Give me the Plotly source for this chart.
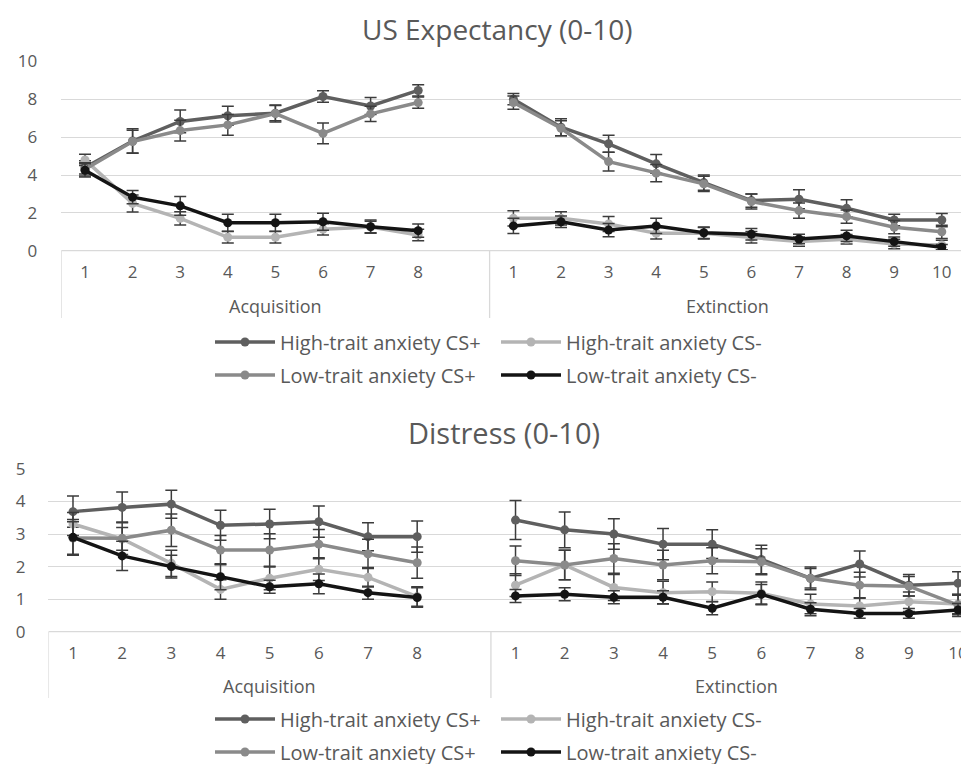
import plotly.graph_objects as go

# ---------------- data ----------------
acq_trials = ["1", "2", "3", "4", "5", "6", "7", "8"]
ext_trials = ["1", "2", "3", "4", "5", "6", "7", "8", "9", "10"]
phases = ["Acquisition", "Extinction"]
series_names = ["High-trait anxiety CS+", "High-trait anxiety CS-",
                "Low-trait anxiety CS+", "Low-trait anxiety CS-"]

# US Expectancy (0-10)
us_acq = {
    "High-trait anxiety CS+": [4.4, 5.8, 6.83, 7.13, 7.27, 8.15, 7.65, 8.47],
    "High-trait anxiety CS-": [4.8, 2.5, 1.71, 0.71, 0.71, 1.13, 1.25, 0.83],
    "Low-trait anxiety CS+": [4.3, 5.77, 6.35, 6.65, 7.25, 6.2, 7.23, 7.83],
    "Low-trait anxiety CS-": [4.25, 2.83, 2.37, 1.48, 1.48, 1.53, 1.27, 1.06],
}
us_acq_err = {
    "High-trait anxiety CS+": [0.35, 0.65, 0.6, 0.5, 0.4, 0.3, 0.45, 0.3],
    "High-trait anxiety CS-": [0.3, 0.45, 0.35, 0.3, 0.3, 0.3, 0.3, 0.3],
    "Low-trait anxiety CS+": [0.35, 0.6, 0.55, 0.55, 0.45, 0.55, 0.4, 0.3],
    "Low-trait anxiety CS-": [0.35, 0.35, 0.5, 0.45, 0.45, 0.45, 0.35, 0.35],
}
us_ext = {
    "High-trait anxiety CS+": [8.01, 6.53, 5.65, 4.59, 3.6, 2.65, 2.72, 2.24, 1.62, 1.62],
    "High-trait anxiety CS-": [1.71, 1.71, 1.41, 0.92, 0.92, 0.71, 0.48, 0.6, 0.35, 0.3],
    "Low-trait anxiety CS+": [7.83, 6.47, 4.71, 4.1, 3.53, 2.6, 2.12, 1.8, 1.24, 1.0],
    "Low-trait anxiety CS-": [1.31, 1.53, 1.09, 1.31, 0.95, 0.87, 0.62, 0.78, 0.48, 0.18],
}
us_ext_err = {
    "High-trait anxiety CS+": [0.3, 0.45, 0.45, 0.5, 0.4, 0.35, 0.5, 0.45, 0.3, 0.35],
    "High-trait anxiety CS-": [0.4, 0.35, 0.4, 0.3, 0.3, 0.3, 0.25, 0.25, 0.25, 0.25],
    "Low-trait anxiety CS+": [0.35, 0.4, 0.5, 0.45, 0.4, 0.4, 0.4, 0.35, 0.35, 0.35],
    "Low-trait anxiety CS-": [0.4, 0.3, 0.35, 0.4, 0.3, 0.3, 0.25, 0.3, 0.25, 0.15],
}

# Distress (0-10)
di_acq = {
    "High-trait anxiety CS+": [3.69, 3.82, 3.92, 3.27, 3.31, 3.38, 2.92, 2.92],
    "High-trait anxiety CS-": [3.31, 2.85, 2.1, 1.3, 1.64, 1.92, 1.67, 1.08],
    "Low-trait anxiety CS+": [2.88, 2.87, 3.12, 2.51, 2.51, 2.69, 2.39, 2.12],
    "Low-trait anxiety CS-": [2.9, 2.33, 2.0, 1.69, 1.38, 1.47, 1.2, 1.05],
}
di_acq_err = {
    "High-trait anxiety CS+": [0.48, 0.47, 0.43, 0.46, 0.45, 0.48, 0.43, 0.48],
    "High-trait anxiety CS-": [0.35, 0.35, 0.4, 0.3, 0.35, 0.35, 0.3, 0.3],
    "Low-trait anxiety CS+": [0.5, 0.5, 0.5, 0.45, 0.5, 0.45, 0.45, 0.48],
    "Low-trait anxiety CS-": [0.55, 0.45, 0.35, 0.4, 0.2, 0.3, 0.2, 0.3],
}
di_ext = {
    "High-trait anxiety CS+": [3.43, 3.13, 3.0, 2.69, 2.69, 2.22, 1.64, 2.08, 1.43, 1.49],
    "High-trait anxiety CS-": [1.43, 2.05, 1.36, 1.2, 1.23, 1.18, 0.85, 0.79, 0.92, 0.85],
    "Low-trait anxiety CS+": [2.18, 2.05, 2.25, 2.05, 2.18, 2.15, 1.64, 1.43, 1.4, 0.82],
    "Low-trait anxiety CS-": [1.1, 1.15, 1.06, 1.06, 0.72, 1.15, 0.69, 0.56, 0.56, 0.67],
}
di_ext_err = {
    "High-trait anxiety CS+": [0.6, 0.55, 0.47, 0.48, 0.44, 0.44, 0.35, 0.4, 0.33, 0.35],
    "High-trait anxiety CS-": [0.35, 0.45, 0.4, 0.35, 0.3, 0.35, 0.3, 0.25, 0.3, 0.3],
    "Low-trait anxiety CS+": [0.45, 0.45, 0.45, 0.45, 0.4, 0.4, 0.3, 0.4, 0.3, 0.3],
    "Low-trait anxiety CS-": [0.2, 0.2, 0.2, 0.2, 0.2, 0.3, 0.2, 0.15, 0.15, 0.2],
}

# ---------------- styles ----------------
colors = {
    "High-trait anxiety CS+": "#5f5f5f",
    "High-trait anxiety CS-": "#b4b4b4",
    "Low-trait anxiety CS+": "#8a8a8a",
    "Low-trait anxiety CS-": "#141414",
}
TXT = "#595959"
GRID = "#d9d9d9"
FONT = "Open Sans, sans-serif"

n_acq = len(acq_trials)
n_ext = len(ext_trials)
x_idx = list(range(n_acq + 1 + n_ext))          # one empty slot between phases
tickvals = list(range(n_acq)) + [n_acq + 1 + i for i in range(n_ext)]
ticktext = acq_trials + ext_trials

fig = go.Figure()


def add_panel(acq, acq_err, ext, ext_err, xa, ya, legends):
    for k, name in enumerate(series_names):
        y = acq[name] + [None] + ext[name]
        e = acq_err[name] + [None] + ext_err[name]
        fig.add_trace(go.Scatter(
            x=x_idx, y=y, name=name, mode="lines+markers",
            connectgaps=False,
            line=dict(color=colors[name], width=3.5),
            marker=dict(color=colors[name], size=9, symbol="circle"),
            error_y=dict(type="data", array=e, visible=True,
                         color="#3c3c3c", thickness=1.5, width=6),
            xaxis=xa, yaxis=ya,
            legend=legends[k // 2],
            showlegend=True,
        ))


add_panel(us_acq, us_acq_err, us_ext, us_ext_err, "x", "y", ["legend", "legend2"])
add_panel(di_acq, di_acq_err, di_ext, di_ext_err, "x2", "y2", ["legend3", "legend4"])

W, H = 969, 764
OFF = 8  # page offset of the figure inside the browser window


def PX(v):
    return (v - OFF) / W


def PY(v):
    return 1 - (v - OFF) / H


top_y0, top_y1 = 250.7, 61.5
bot_y0, bot_y1 = 631.7, 469.0
top_x0, top_x1 = 61.2, 965.6
bot_x0, bot_x1 = 48.4, 969.0
bot_step = 49.17

axis_common = dict(showgrid=False, zeroline=False, ticks="",
                   tickvals=tickvals, ticktext=ticktext,
                   tickfont=dict(family=FONT, size=17, color=TXT),
                   showline=False, fixedrange=True, automargin=False,
                   ticklabelstandoff=9)
yaxis_common = dict(showgrid=True, gridcolor=GRID, gridwidth=1.3, zeroline=False,
                    ticks="", tickfont=dict(family=FONT, size=17, color=TXT),
                    fixedrange=True, automargin=False)

fig.update_layout(
    width=W, height=H,
    margin=dict(l=0, r=0, t=0, b=0, autoexpand=False),
    plot_bgcolor="white", paper_bgcolor="white",
    xaxis=dict(domain=[PX(top_x0), PX(top_x1)], range=[-0.5, 18.5],
               anchor="y", **axis_common),
    yaxis=dict(domain=[PY(top_y0), PY(top_y1)], range=[0, 10], dtick=2,
               ticklabelstandoff=23, anchor="x", **yaxis_common),
    xaxis2=dict(domain=[PX(bot_x0), PX(bot_x1)],
                range=[-0.5, -0.5 + (bot_x1 - bot_x0) / bot_step],
                anchor="y2", **axis_common),
    yaxis2=dict(domain=[PY(bot_y0), PY(bot_y1)], range=[0, 5], dtick=1,
                ticklabelstandoff=22, anchor="x2", **yaxis_common),
    showlegend=True,
)

legend_style = dict(orientation="h", xref="paper", yref="paper",
                    xanchor="left", yanchor="middle",
                    font=dict(family=FONT, size=20, color=TXT),
                    bgcolor="rgba(0,0,0,0)", entrywidth=211,
                    entrywidthmode="pixels", itemwidth=60,
                    tracegroupgap=0)
fig.update_layout(
    legend=dict(x=PX(210), y=PY(342), **legend_style),
    legend2=dict(x=PX(210), y=PY(375), **legend_style),
    legend3=dict(x=PX(210), y=PY(719), **legend_style),
    legend4=dict(x=PX(210), y=PY(752), **legend_style),
)

# titles
fig.add_annotation(text="US Expectancy (0-10)", x=PX(497), y=1.0, xref="paper",
                   yref="paper", showarrow=False, xanchor="center", yanchor="top",
                   font=dict(family=FONT, size=28, color=TXT))
fig.add_annotation(text="Distress (0-10)", x=PX(504), y=PY(432), xref="paper",
                   yref="paper", showarrow=False, xanchor="center", yanchor="middle",
                   font=dict(family=FONT, size=29, color=TXT))


# multi-level category axis: bottom line, group dividers and group labels
def category_frame(xref_axis, y_axis_px, y_bottom_px, label_px, x_end):
    div_positions = [-0.5, n_acq + 0.5, x_end]
    fig.add_shape(type="line", xref=xref_axis, yref="paper",
                  x0=-0.5, x1=x_end, y0=PY(y_axis_px), y1=PY(y_axis_px),
                  line=dict(color=GRID, width=1.3))
    for xv in div_positions:
        fig.add_shape(type="line", xref=xref_axis, yref="paper",
                      x0=xv, x1=xv, y0=PY(y_axis_px), y1=PY(y_bottom_px),
                      line=dict(color=GRID, width=1.3))
    centers = [(-0.5 + n_acq + 0.5) / 2, (n_acq + 0.5 + 18.5) / 2]
    for c, lab in zip(centers, phases):
        fig.add_annotation(text=lab, x=c, xref=xref_axis, y=PY(label_px),
                           yref="paper", showarrow=False,
                           xanchor="center", yanchor="middle",
                           font=dict(family=FONT, size=18, color=TXT))


category_frame("x", top_y0, 318, 306, 18.5)
category_frame("x2", bot_y0, 698, 686, 18.6)

fig.write_html("out.html")
